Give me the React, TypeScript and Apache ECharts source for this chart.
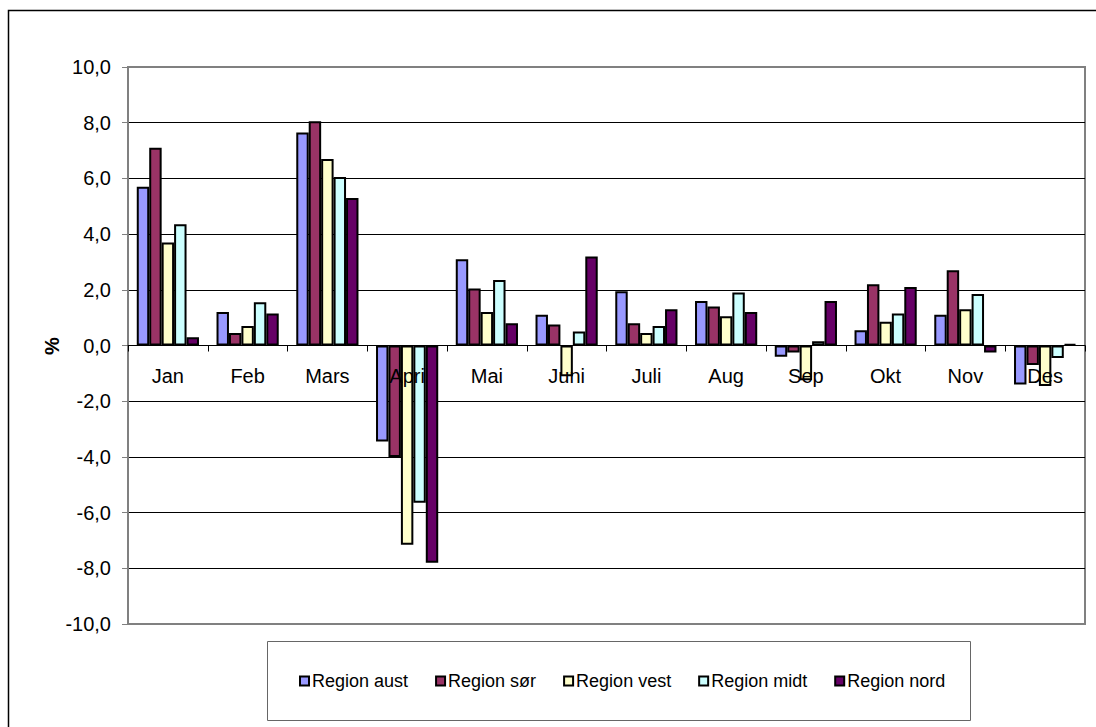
import React, { useEffect, useRef } from "react";
import * as echarts from "echarts";

const months = ["Jan", "Feb", "Mars", "Apri", "Mai", "Juni", "Juli", "Aug", "Sep", "Okt", "Nov", "Des"];
const seriesNames = ["Region aust", "Region sør", "Region vest", "Region midt", "Region nord"];
const regionAust = [5.7, 1.2, 7.65, -3.45, 3.1, 1.1, 1.95, 1.6, -0.4, 0.55, 1.1, -1.4];
const regionSor = [7.1, 0.45, 8.05, -4.0, 2.05, 0.75, 0.8, 1.4, -0.25, 2.2, 2.7, -0.7];
const regionVest = [3.7, 0.7, 6.7, -7.15, 1.2, -1.1, 0.45, 1.05, -1.25, 0.85, 1.3, -1.45];
const regionMidt = [4.35, 1.55, 6.05, -5.65, 2.35, 0.5, 0.7, 1.9, 0.15, 1.15, 1.85, -0.45];
const regionNord = [0.3, 1.15, 5.3, -7.8, 0.8, 3.2, 1.3, 1.2, 1.6, 2.1, -0.25, 0.05];
const colors = ["#9999FF", "#993366", "#FFFFCC", "#CCFFFF", "#660066"];

const FONT = "'Liberation Sans', Arial, sans-serif";

const GRID_TOP = 67;
const GRID_BOTTOM = 103;
const CHART_H = 727;

export default function App() {
  const ref = useRef<HTMLDivElement>(null);
  useEffect(() => {
    if (!ref.current) return;
    const chart = echarts.init(ref.current, null, { renderer: "svg" });
    const data = [regionAust, regionSor, regionVest, regionMidt, regionNord];
    const gridColors = Array.from({ length: 11 }, (_, i) => (i === 0 || i === 10 ? "#808080" : "#000000"));
    // category axis sits on the zero line (half the plot height above the bottom, since y runs -10..10)
    const plotH = CHART_H - GRID_TOP - GRID_BOTTOM;
    const zeroOffset = -plotH / 2;
    chart.setOption({
      animation: false,
      backgroundColor: "#ffffff",
      textStyle: { fontFamily: FONT },
      grid: {
        left: 128,
        top: GRID_TOP,
        right: 11,
        bottom: GRID_BOTTOM,
        show: true,
        borderColor: "#808080",
        borderWidth: 2,
        backgroundColor: "transparent",
      },
      legend: {
        left: 294,
        top: 667,
        itemWidth: 9,
        itemHeight: 9,
        itemGap: 27,
        icon: "rect",
        textStyle: { fontFamily: FONT, fontSize: 18, color: "#000", padding: [0, 0, 0, -2] },
        data: seriesNames,
      },
      xAxis: {
        type: "category",
        data: months,
        position: "bottom",
        offset: zeroOffset,
        z: 5,
        axisLine: { onZero: false, lineStyle: { color: "#000", width: 1 } },
        axisTick: { show: true, length: 6, lineStyle: { color: "#000" } },
        axisLabel: { margin: 20, fontSize: 20, color: "#000", fontFamily: FONT },
        splitLine: { show: false },
      },
      yAxis: {
        type: "value",
        min: -10,
        max: 10,
        interval: 2,
        axisLine: { show: true, lineStyle: { color: "#808080", width: 2 } },
        axisTick: { show: true, length: 6, lineStyle: { color: "#808080" } },
        axisLabel: {
          margin: 17,
          fontSize: 20,
          color: "#000",
          fontFamily: FONT,
          formatter: (v: number) => v.toFixed(1).replace(".", ","),
        },
        splitLine: { show: true, lineStyle: { color: gridColors, width: 1 } },
      },
      graphic: [
        {
          type: "rect",
          shape: { x: 8.5, y: 10.5, width: 1200, height: 900 },
          style: { fill: "none", stroke: "#000", lineWidth: 1.5 },
          silent: true,
          z: -10,
        },
        {
          type: "rect",
          shape: { x: 267.5, y: 641.5, width: 703, height: 79 },
          style: { fill: "#fff", stroke: "#666", lineWidth: 1 },
          silent: true,
          z: -5,
        },
        {
          type: "text",
          x: 52,
          y: 346,
          rotation: Math.PI / 2,
          style: {
            text: "%",
            font: "bold 20px " + FONT,
            fill: "#000",
            textAlign: "center",
            textVerticalAlign: "middle",
          },
        },
      ],
      series: data.map((d, i) => ({
        name: seriesNames[i],
        type: "bar",
        data: d,
        barGap: "0%",
        barCategoryGap: "22%",
        itemStyle: { color: colors[i], borderColor: "#000", borderWidth: 2 },
      })),
    });
    return () => chart.dispose();
  }, []);
  return <div ref={ref} style={{ position: "fixed", left: 0, top: 0, width: 1096, height: CHART_H }} />;
}
